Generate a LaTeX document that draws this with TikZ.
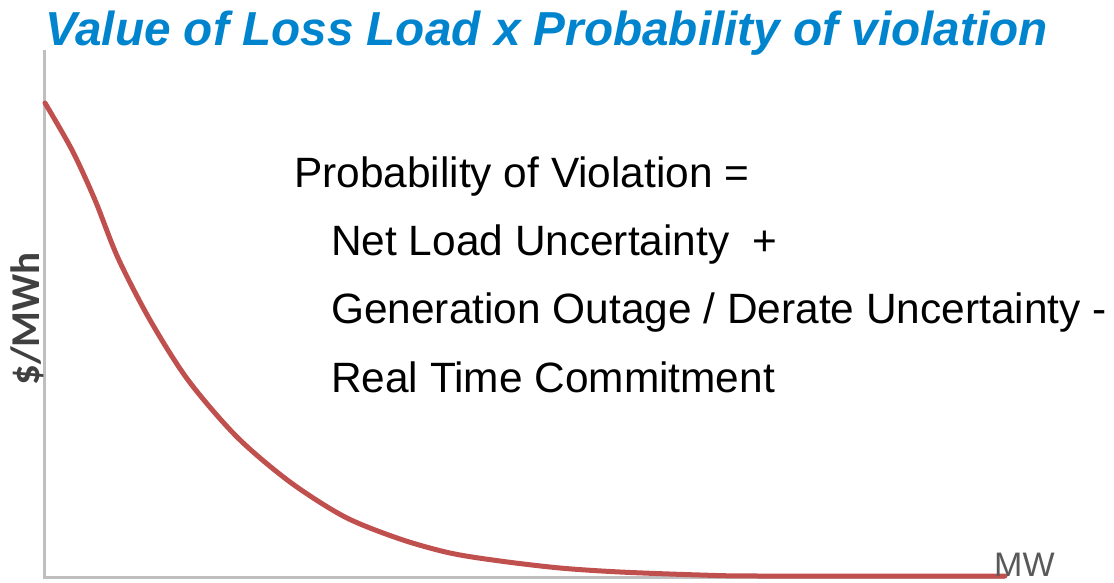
\documentclass[tikz,border=0pt]{standalone}
\usepackage{fontspec}
\setmainfont{Liberation Sans}
\newfontfamily\carlito{Carlito}
\definecolor{titleblue}{RGB}{0,132,206}
\definecolor{axisgray}{RGB}{191,191,191}
\definecolor{curvered}{RGB}{192,80,77}
\definecolor{labelgray}{RGB}{64,64,64}
\definecolor{mwgray}{RGB}{89,89,89}
\begin{document}
\begin{tikzpicture}[x=1pt,y=-1pt,
  bodytext/.style={anchor=base west,inner sep=0pt,font=\fontsize{42.4}{50}\selectfont,text=black},
  axisline/.style={draw=axisgray,line width=3pt},
  curveline/.style={draw=curvered,line width=5pt,line cap=round,line join=round}]
\useasboundingbox (0,0) rectangle (1114,582);
\node[anchor=base west,inner sep=0pt,text=titleblue,font=\fontsize{47.7}{56}\selectfont\bfseries\itshape] (title) at (45,45) {Value of Loss Load x Probability of violation};
\coordinate (ytop) at (44,50);
\coordinate (origin) at (44,577);
\coordinate (xend) at (1005,577);
\draw[axisline] (ytop) -- (origin) -- (xend);
\draw[curveline] plot[smooth,tension=0.5] coordinates {(45,103) (72,150) (95,200) (118,258) (150,320) (188,380) (237,437) (290,482) (345,517) (400,539) (450,553) (500,561) (560,568) (620,572) (700,575) (760,576) (1005,576)};
\node[bodytext] (l1) at (294,187) {Probability of Violation =};
\node[bodytext] (l2) at (331,255) {Net Load Uncertainty\ \ +};
\node[bodytext] (l3) at (331,323) {Generation Outage / Derate Uncertainty -};
\node[bodytext] (l4) at (331,392) {Real Time Commitment};
\node[anchor=base,rotate=90,inner sep=0pt,text=labelgray,font=\carlito\bfseries\fontsize{41}{48}\selectfont] (ylab) at (39,319) {\$/MWh};
\node[anchor=base west,inner sep=0pt,text=mwgray,font=\fontsize{34}{40}\selectfont] (xlab) at (994,576) {MW};
\end{tikzpicture}
\end{document}
